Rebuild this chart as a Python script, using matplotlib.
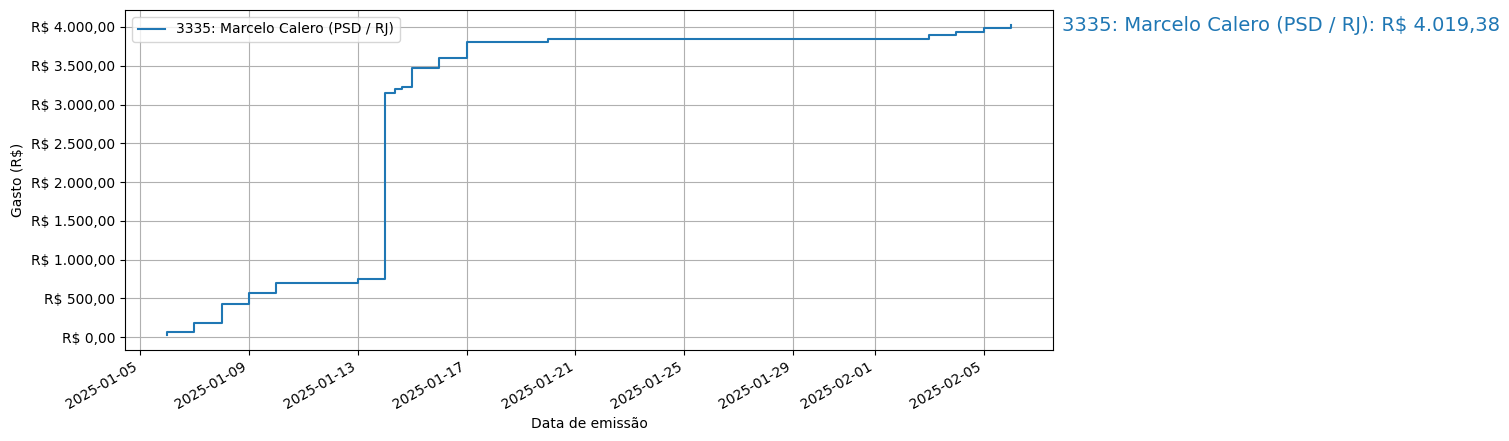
import matplotlib
matplotlib.use("Agg")
import matplotlib.pyplot as plt
import matplotlib.ticker as mticker
import pandas as pd

# Gasto acumulado por data de emissão
datas = [
    "2025-01-06 00:00", "2025-01-06 00:00", "2025-01-07 00:00", "2025-01-08 00:00",
    "2025-01-09 00:00", "2025-01-10 00:00", "2025-01-13 00:00", "2025-01-14 00:00",
    "2025-01-14 09:05", "2025-01-14 14:40", "2025-01-15 00:00", "2025-01-16 00:00",
    "2025-01-17 00:00", "2025-01-20 00:00", "2025-02-03 00:00", "2025-02-04 00:00",
    "2025-02-05 00:00", "2025-02-06 00:00",
]
gasto_acumulado = [
    35, 62, 178, 430,
    570, 700, 750, 3155,
    3195, 3225, 3477, 3605,
    3807, 3850, 3893, 3940,
    3990, 4019.38,
]
nome = "3335: Marcelo Calero (PSD / RJ)"

datas = pd.to_datetime(datas, format="%Y-%m-%d %H:%M")


def fmt_real(v, pos=None):
    s = f"{v:,.2f}".replace(",", "X").replace(".", ",").replace("X", ".")
    return f"R$ {s}"


fig = plt.figure(figsize=(15.09, 4.41), dpi=100)
ax = fig.add_axes([125 / 1509, 1 - 350 / 441, 928 / 1509, 340 / 441])

ax.plot(datas, gasto_acumulado, drawstyle="steps-post", label=nome)
ax.annotate(f"{nome}: {fmt_real(gasto_acumulado[-1])}",
            xy=(1.0097, gasto_acumulado[-1]), xycoords=("axes fraction", "data"),
            fontsize=14, color="C0", va="center", ha="left")

ax.yaxis.set_major_formatter(mticker.FuncFormatter(fmt_real))
ax.set_xlabel("Data de emissão")
ax.set_ylabel("Gasto (R$)")
ax.grid(True)
ax.legend(loc="upper left")
for lbl in ax.get_xticklabels():
    lbl.set_rotation(30)
    lbl.set_ha("right")

fig.savefig("out.png", dpi=100)
